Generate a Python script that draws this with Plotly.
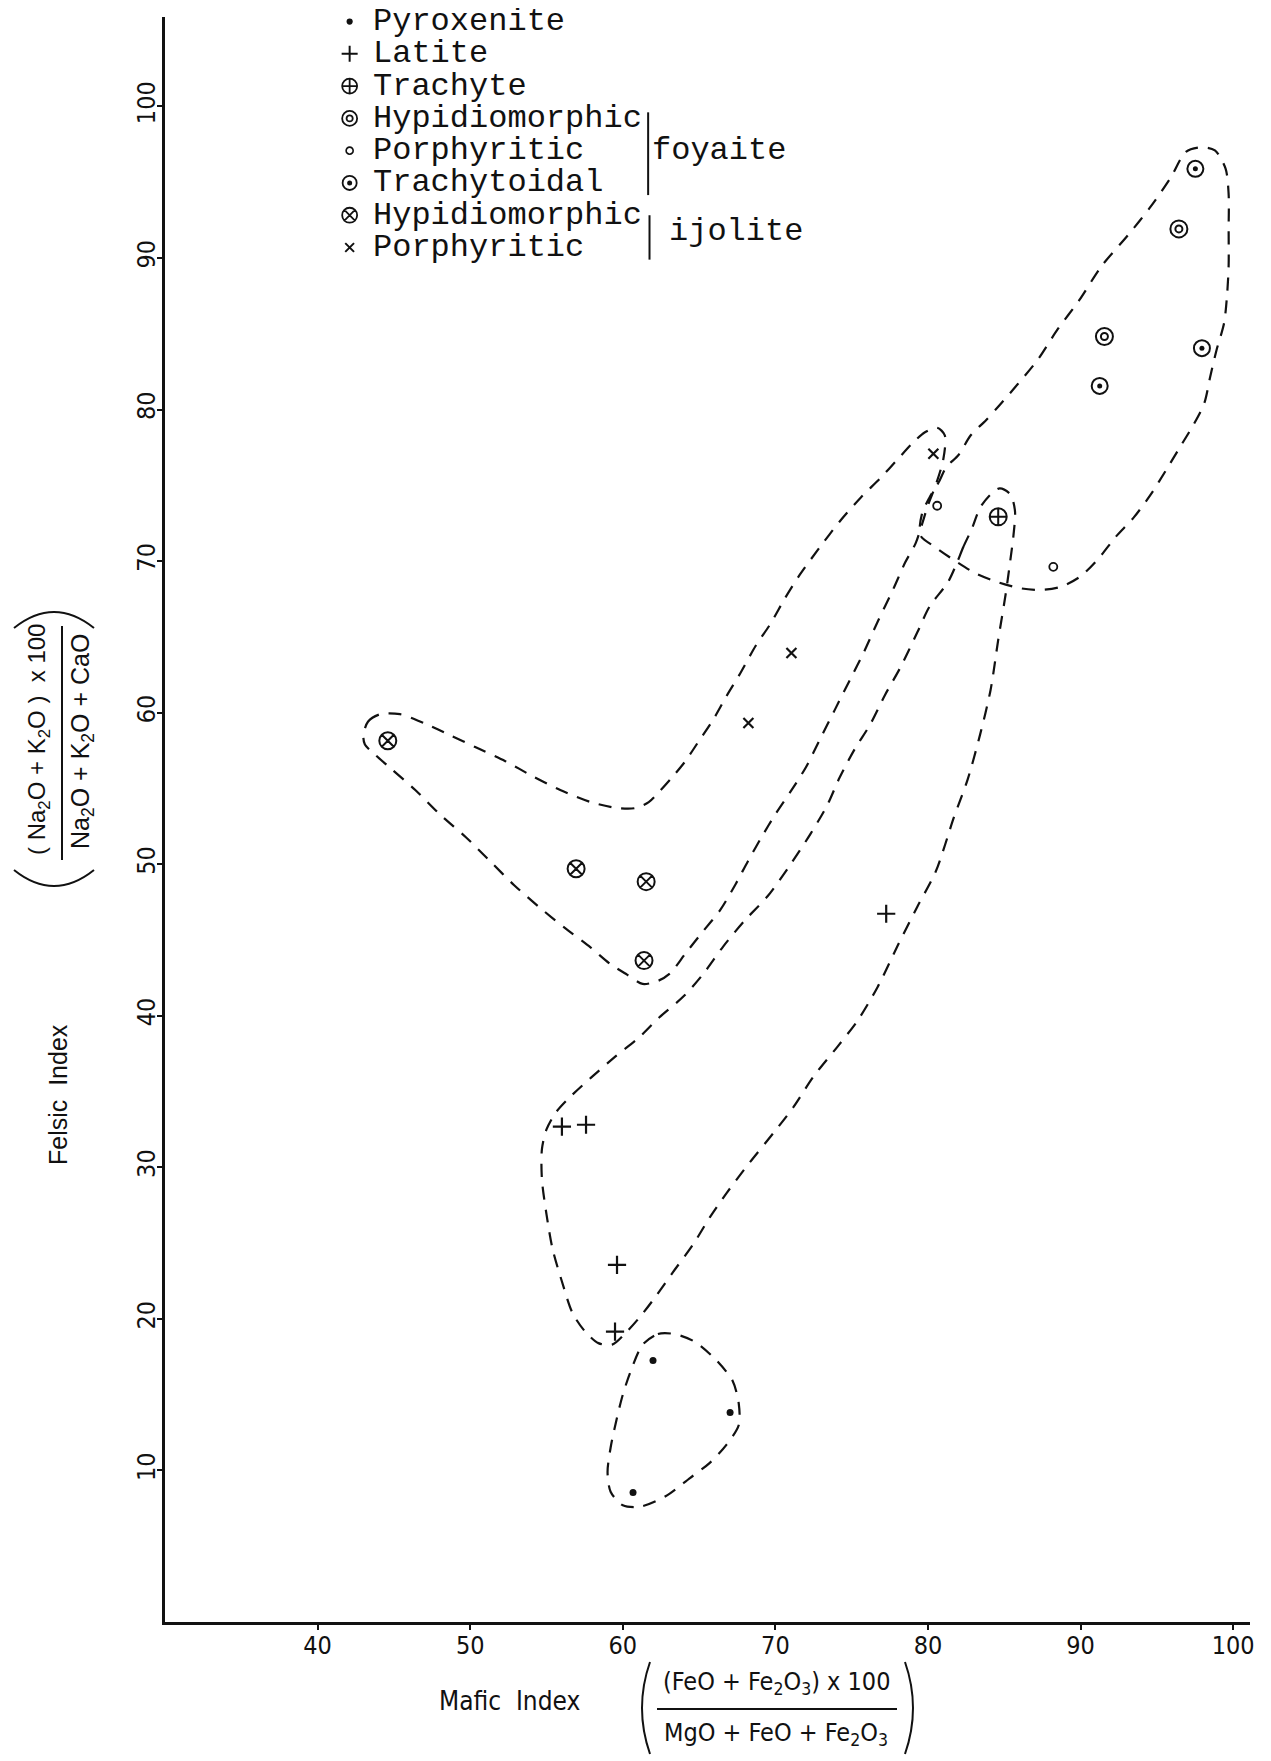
import plotly.graph_objects as go

# ---------------- data (Mafic index x, Felsic index y) ----------------
pyroxenite_x = [61.98, 67.03, 60.67]
pyroxenite_y = [17.25, 13.82, 8.54]
latite_x = [56.01, 57.59, 59.62, 59.49, 77.26]
latite_y = [32.69, 32.81, 23.56, 19.16, 46.73]
trachyte_x = [84.60]
trachyte_y = [72.92]
foy_hyp_x = [96.44, 91.56]
foy_hyp_y = [91.92, 84.82]
foy_por_x = [80.60, 88.21]
foy_por_y = [73.65, 69.62]
foy_tra_x = [97.52, 97.95, 91.25]
foy_tra_y = [95.88, 84.05, 81.56]
ijo_hyp_x = [44.60, 56.94, 61.53, 61.39]
ijo_hyp_y = [58.15, 49.70, 48.85, 43.64]
ijo_por_x = [80.35, 71.05, 68.23]
ijo_por_y = [77.08, 63.94, 59.32]

# dashed field outlines
pyro_field_x = [61.3, 62.3, 63.4, 64.7, 66.1, 67.2, 67.6, 67.6, 66.8, 65.7, 64.4, 62.8, 61.1, 60.0, 59.2, 59.0, 59.2, 59.6, 60.0, 60.5]
pyro_field_y = [18.3, 19.0, 19.0, 18.5, 17.3, 15.9, 14.4, 13.0, 11.7, 10.5, 9.5, 8.3, 7.6, 7.7, 8.6, 9.9, 11.5, 13.4, 15.0, 16.5]

latite_field_x = [81.9, 82.3, 82.9, 83.4, 84.1, 84.7, 85.4, 85.7, 85.6, 85.4, 85.1, 84.6, 84.1, 83.4, 82.6, 81.7, 80.5, 79.3, 78.0, 76.7,
                  75.4, 74.1, 72.5, 71.2, 69.9, 68.3, 66.8, 65.7, 64.6, 63.3, 62.1, 61.1, 60.3, 59.3, 58.4, 57.5, 56.7, 56.0, 55.4, 55.0,
                  54.7, 54.7, 55.0, 55.6, 56.4, 57.9, 59.5, 61.1, 62.4, 64.0, 65.3, 66.6, 68.0, 69.5, 71.0, 72.3, 73.4, 74.2, 75.2, 76.2,
                  77.2, 78.2, 79.3, 80.1, 81.3]
latite_field_y = [69.9, 70.9, 72.2, 73.5, 74.4, 74.8, 74.4, 73.3, 71.7, 70.1, 67.9, 64.8, 61.5, 58.5, 55.6, 53.1, 49.5, 47.2, 44.6, 41.9,
                  39.7, 38.0, 36.0, 34.0, 32.3, 30.3, 28.3, 26.7, 24.9, 23.1, 21.4, 20.1, 19.2, 18.3, 18.4, 19.2, 20.4, 22.5, 24.6, 26.9,
                  29.2, 31.2, 32.5, 33.6, 34.5, 35.9, 37.3, 38.6, 39.9, 41.3, 42.8, 44.6, 46.3, 47.9, 50.0, 52.0, 53.9, 55.7, 57.6, 59.2,
                  61.2, 63.0, 65.3, 67.0, 68.6]

ijolite_field_x = [43.0, 43.3, 44.1, 45.4, 47.0, 48.7, 50.4, 52.3, 54.1, 55.9, 57.9, 59.7, 60.8, 61.7, 62.4, 63.2, 64.1, 64.9, 65.9, 66.8,
                   67.7, 68.7, 69.7, 70.6, 71.6, 72.9, 74.2, 75.6, 76.9, 78.0, 79.0, 79.8, 80.6, 81.1, 81.0, 80.5, 80.0, 79.6, 79.2, 78.5,
                   77.7, 76.7, 75.8, 74.9, 73.9, 72.9, 72.0, 71.0, 70.0, 69.1, 68.2, 67.4, 66.4, 65.2, 64.1, 63.1, 62.3, 61.3, 60.3, 59.2,
                   57.9, 56.2, 54.6, 52.9, 51.3, 49.7, 48.0, 46.4, 44.7, 43.8, 43.1]
ijolite_field_y = [58.5, 59.4, 59.9, 59.9, 59.3, 58.5, 57.7, 56.8, 55.8, 54.9, 54.1, 53.7, 53.7, 54.1, 54.8, 55.7, 56.8, 58.0, 59.5, 61.1,
                   62.6, 64.4, 65.9, 67.5, 69.1, 70.9, 72.6, 74.2, 75.5, 76.7, 77.8, 78.5, 78.8, 78.3, 76.7, 75.0, 73.7, 72.4, 71.2, 69.9,
                   68.1, 66.0, 64.0, 62.2, 60.2, 58.2, 56.4, 54.8, 53.3, 51.8, 50.2, 48.7, 47.0, 45.5, 44.1, 42.8, 42.3, 42.1, 42.7, 43.4,
                   44.5, 45.8, 47.1, 48.6, 50.2, 51.8, 53.3, 54.9, 56.4, 57.2, 57.9]

foyaite_field_x = [80.1, 80.7, 81.2, 82.0, 82.8, 83.8, 84.7, 85.9, 87.2, 88.5, 89.9, 91.4, 93.1, 94.6, 95.9, 96.9, 97.9, 98.8, 99.5, 99.7,
                   99.7, 99.7, 99.6, 99.4, 98.9, 98.5, 98.1, 97.4, 96.5, 95.6, 94.6, 93.5, 92.3, 91.2, 90.0, 88.7, 87.4, 86.1, 84.6, 83.1,
                   81.8, 80.5, 79.5, 79.6]
foyaite_field_y = [74.2, 75.2, 76.2, 77.0, 78.3, 79.3, 80.3, 81.7, 83.3, 85.3, 87.2, 89.5, 91.5, 93.4, 95.3, 97.0, 97.3, 97.1, 95.9, 94.2,
                   91.9, 89.5, 87.6, 85.7, 83.9, 82.2, 80.4, 79.0, 77.5, 76.0, 74.4, 72.9, 71.6, 70.2, 69.0, 68.3, 68.1, 68.2, 68.6, 69.2,
                   70.0, 70.9, 71.7, 73.1]

legend_labels = ["Pyroxenite", "Latite", "Trachyte", "Hypidiomorphic", "Porphyritic",
                 "Trachytoidal", "Hypidiomorphic", "Porphyritic"]
x_ticks = [40, 50, 60, 70, 80, 90, 100]
y_ticks = [10, 20, 30, 40, 50, 60, 70, 80, 90, 100]

# ---------------- layout geometry ----------------
OFF = 8                      # page body margin of the html page
W, H = 1271 - OFF, 1761 - OFF
PLOT_L, PLOT_R, PLOT_T, PLOT_B = 165, 1250, 17, 1622   # plot area in page pixels
ML, MR, MT, MB = PLOT_L - OFF, 1271 - PLOT_R, PLOT_T - OFF, 1761 - PLOT_B
X_RANGE = [30, 101.1]
Y_RANGE = [0, 105.9]
INK = "#111111"
TICK_FONT = "Liberation Sans Narrow, DejaVu Sans Condensed, Roboto Condensed, Liberation Sans, sans-serif"
LABEL_FONT = "Liberation Sans, Arial, sans-serif"
MONO_FONT = "Liberation Mono, Courier New, monospace"


def pxx(px):
    return (px - PLOT_L) / (PLOT_R - PLOT_L)


def pxy(py):
    return (PLOT_B - py) / (PLOT_B - PLOT_T)


fig = go.Figure()

# dashed outlines
DASH = "13px,10px"
for fx, fy in [(pyro_field_x, pyro_field_y), (latite_field_x, latite_field_y),
               (ijolite_field_x, ijolite_field_y), (foyaite_field_x, foyaite_field_y)]:
    fig.add_trace(go.Scatter(x=fx + [fx[0]], y=fy + [fy[0]], mode="lines",
                             line=dict(color=INK, width=2.2, dash=DASH, shape="spline", smoothing=0.8),
                             hoverinfo="skip", showlegend=False))

# symbol styles: list of layers (symbol, size, line width)
styles = [
    [("circle", 7, 0)],                                   # Pyroxenite
    [("cross-thin", 13, 2.2)],                            # Latite
    [("circle-cross-open", 17, 2)],                       # Trachyte
    [("circle-open", 17, 2), ("circle-open", 7, 2)],      # Hypidiomorphic foyaite
    [("circle-open", 8, 1.8)],                            # Porphyritic foyaite
    [("circle-open", 16, 2), ("circle", 5, 0)],           # Trachytoidal foyaite
    [("circle-x-open", 17, 2)],                           # Hypidiomorphic ijolite
    [("x-thin", 10, 2.2)],                                # Porphyritic ijolite
]
series = [(pyroxenite_x, pyroxenite_y), (latite_x, latite_y), (trachyte_x, trachyte_y),
          (foy_hyp_x, foy_hyp_y), (foy_por_x, foy_por_y), (foy_tra_x, foy_tra_y),
          (ijo_hyp_x, ijo_hyp_y), (ijo_por_x, ijo_por_y)]

for (sx, sy), layers in zip(series, styles):
    for sym, size, lw in layers:
        fig.add_trace(go.Scatter(x=sx, y=sy, mode="markers", showlegend=False, hoverinfo="skip",
                                 marker=dict(symbol=sym, size=size, color=INK,
                                             line=dict(color=INK, width=lw))))

# legend (text + symbol markers)
LEG_X_SYM = 42.1
LEG_X_TXT = 43.5
LEG_Y0 = 105.6
LEG_DY = 2.13
leg_scale = 0.88
for i, (label_txt, layers) in enumerate(zip(legend_labels, styles)):
    ly = LEG_Y0 - i * LEG_DY
    for sym, size, lw in layers:
        fig.add_trace(go.Scatter(x=[LEG_X_SYM], y=[ly], mode="markers", showlegend=False,
                                 hoverinfo="skip", cliponaxis=False,
                                 marker=dict(symbol=sym, size=max(size * leg_scale, 5), color=INK,
                                             line=dict(color=INK, width=lw * 0.9))))
    fig.add_annotation(x=LEG_X_TXT, y=ly, xref="x", yref="y", text=label_txt, showarrow=False,
                       xanchor="left", yanchor="middle",
                       font=dict(family=MONO_FONT, size=32, color=INK))

fig.add_annotation(x=61.8, y=LEG_Y0 - 4 * LEG_DY, xref="x", yref="y", text="foyaite", showarrow=False,
                   xanchor="left", yanchor="middle", font=dict(family=MONO_FONT, size=32, color=INK))
fig.add_annotation(x=62.9, y=LEG_Y0 - 6.5 * LEG_DY, xref="x", yref="y", text="ijolite", showarrow=False,
                   xanchor="left", yanchor="middle", font=dict(family=MONO_FONT, size=32, color=INK))

shapes = []
shapes.append(dict(type="line", xref="x", yref="y", x0=61.66, x1=61.66,
                   y0=LEG_Y0 - 3 * LEG_DY + 0.4, y1=LEG_Y0 - 5 * LEG_DY - 0.8, line=dict(color=INK, width=2)))
shapes.append(dict(type="line", xref="x", yref="y", x0=61.75, x1=61.75,
                   y0=LEG_Y0 - 6 * LEG_DY, y1=LEG_Y0 - 7 * LEG_DY - 0.8, line=dict(color=INK, width=2)))

# ---------------- axis titles (fractions) ----------------
def label(px, py, text, size, family=LABEL_FONT, angle=0):
    fig.add_annotation(x=pxx(px), y=pxy(py), xref="paper", yref="paper", text=text,
                       textangle=angle, showarrow=False, xanchor="center", yanchor="middle",
                       font=dict(family=family, size=size, color=INK))


label(58, 1095, "Felsic  Index", 25, angle=-90)
label(39, 740, "( Na<sub>2</sub>O + K<sub>2</sub>O )  x 100", 24, angle=-90)
label(82, 742, "Na<sub>2</sub>O + K<sub>2</sub>O + CaO", 25, angle=-90)
shapes.append(dict(type="line", xref="paper", yref="paper", x0=pxx(62), x1=pxx(62),
                   y0=pxy(626), y1=pxy(860), line=dict(color=INK, width=2)))
shapes.append(dict(type="path", xref="paper", yref="paper",
                   path=f"M {pxx(14)},{pxy(628)} Q {pxx(54)},{pxy(596)} {pxx(94)},{pxy(628)}",
                   line=dict(color=INK, width=2)))
shapes.append(dict(type="path", xref="paper", yref="paper",
                   path=f"M {pxx(14)},{pxy(870)} Q {pxx(54)},{pxy(902)} {pxx(94)},{pxy(870)}",
                   line=dict(color=INK, width=2)))

label(509, 1701, "Mafic  Index", 26, family=TICK_FONT)
label(776, 1683, "(FeO + Fe<sub>2</sub>O<sub>3</sub>) x 100", 25, family=TICK_FONT)
label(776, 1734, "MgO + FeO + Fe<sub>2</sub>O<sub>3</sub>", 25, family=TICK_FONT)
shapes.append(dict(type="line", xref="paper", yref="paper", x0=pxx(657), x1=pxx(897),
                   y0=pxy(1709), y1=pxy(1709), line=dict(color=INK, width=2)))
shapes.append(dict(type="path", xref="paper", yref="paper",
                   path=f"M {pxx(650)},{pxy(1662)} Q {pxx(634)},{pxy(1708)} {pxx(650)},{pxy(1754)}",
                   line=dict(color=INK, width=2)))
shapes.append(dict(type="path", xref="paper", yref="paper",
                   path=f"M {pxx(905)},{pxy(1662)} Q {pxx(921)},{pxy(1708)} {pxx(905)},{pxy(1754)}",
                   line=dict(color=INK, width=2)))

fig.update_layout(
    width=W, height=H,
    margin=dict(l=ML, r=MR, t=MT, b=MB, pad=0),
    paper_bgcolor="white", plot_bgcolor="white",
    showlegend=False,
    shapes=shapes,
    xaxis=dict(range=X_RANGE, tickmode="array", tickvals=x_ticks, ticktext=[str(v) for v in x_ticks],
               showgrid=False, zeroline=False, showline=True, linecolor=INK, linewidth=2.5,
               ticks="outside", ticklen=5, tickwidth=1.5, tickcolor=INK, ticklabelstandoff=-6,
               tickfont=dict(family=TICK_FONT, size=25, color=INK)),
    yaxis=dict(range=Y_RANGE, tickmode="array", tickvals=y_ticks, ticktext=[str(v) for v in y_ticks],
               showgrid=False, zeroline=False, showline=True, linecolor=INK, linewidth=2.5,
               ticks="outside", ticklen=5, tickwidth=1.5, tickcolor=INK, tickangle=-90,
               ticklabelstandoff=-8,
               tickfont=dict(family=TICK_FONT, size=25, color=INK)),
)

fig.write_html("out.html")
